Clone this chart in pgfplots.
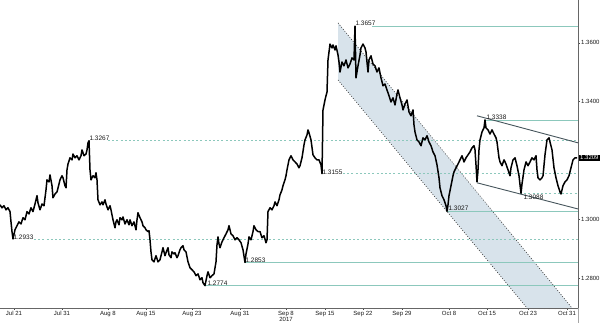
\documentclass[border=0pt]{standalone}
\usepackage{pgfplots}
\pgfplotsset{compat=1.18}
\usepackage{pgfplotstable}
\usepackage{fontspec}
\setmainfont{Liberation Sans}
\definecolor{lvl}{RGB}{140,200,188}
\definecolor{chan}{RGB}{216,227,235}
\definecolor{trend}{RGB}{70,85,92}
\tikzset{lbl/.style={font=\fontsize{6.5}{7}\selectfont, inner sep=0.3pt, text=black!90}}
\pgfplotstableread{
x y
0 1.3049
2 1.3039
4 1.3046
6 1.3032
8 1.3039
10 1.3026
11 1.2991
12 1.2958
13 1.2933
15 1.2964
17 1.2978
19 1.2991
21 1.2984
23 1.3005
25 1.2998
27 1.3026
29 1.3018
31 1.3039
33 1.3026
35 1.3052
37 1.3080
38 1.3056
40 1.3032
42 1.3052
44 1.3046
46 1.3100
47 1.3134
49 1.3127
50 1.3151
52 1.3114
53 1.3073
55 1.3086
57 1.3093
59 1.3120
60 1.3134
62 1.3148
63 1.3141
65 1.3114
66 1.3107
67 1.3168
68 1.3188
70 1.3209
72 1.3202
73 1.3222
75 1.3209
77 1.3216
79 1.3202
81 1.3216
82 1.3236
84 1.3216
86 1.3222
87 1.3236
88 1.3260
89 1.3267
90 1.3168
91 1.3134
93 1.3148
95 1.3141
96 1.3158
97 1.3134
98 1.3066
100 1.3049
102 1.3059
103 1.3049
105 1.3066
106 1.3052
108 1.3032
110 1.3046
111 1.3032
113 1.2998
115 1.2971
116 1.2991
117 1.2998
119 1.2981
120 1.3005
122 1.2998
123 1.3008
125 1.2984
127 1.2998
129 1.2981
130 1.2998
132 1.2978
134 1.2991
136 1.2964
137 1.2998
138 1.3022
140 1.3005
142 1.2991
143 1.2978
145 1.2971
146 1.2964
148 1.2958
149 1.2961
150 1.2930
151 1.2889
152 1.2862
154 1.2855
156 1.2876
158 1.2855
160 1.2862
162 1.2889
163 1.2903
165 1.2876
166 1.2886
168 1.2903
169 1.2879
171 1.2869
172 1.2889
174 1.2882
175 1.2886
177 1.2869
178 1.2876
180 1.2896
181 1.2903
183 1.2910
184 1.2896
186 1.2889
188 1.2855
190 1.2835
192 1.2828
194 1.2821
196 1.2808
198 1.2814
200 1.2794
202 1.2801
203 1.2784
205 1.2774
207 1.2808
208 1.2821
210 1.2801
212 1.2808
214 1.2814
216 1.2855
217 1.2913
218 1.2940
219 1.2916
220 1.2903
222 1.2923
224 1.2937
226 1.2950
228 1.2964
229 1.2978
231 1.2950
233 1.2944
235 1.2930
237 1.2937
239 1.2930
241 1.2920
243 1.2896
245 1.2853
246 1.2882
248 1.2916
249 1.2940
251 1.2930
253 1.2958
254 1.2978
256 1.2964
258 1.2958
260 1.2958
262 1.2937
264 1.2944
266 1.2920
267 1.2930
268 1.3026
270 1.3039
272 1.3032
274 1.3046
275 1.3059
277 1.3046
279 1.3066
280 1.3083
282 1.3100
283 1.3114
285 1.3134
286 1.3148
287 1.3168
289 1.3202
291 1.3216
293 1.3202
295 1.3195
297 1.3188
299 1.3175
300 1.3182
302 1.3209
304 1.3253
305 1.3270
307 1.3287
308 1.3304
309 1.3294
311 1.3270
313 1.3219
315 1.3209
317 1.3202
319 1.3202
321 1.3185
322 1.3155
323 1.3372
325 1.3406
326 1.3420
327 1.3433
328 1.3542
330 1.3596
332 1.3583
333 1.3593
335 1.3576
336 1.3590
338 1.3559
339 1.3535
340 1.3501
342 1.3535
344 1.3522
346 1.3542
348 1.3515
350 1.3528
352 1.3549
354 1.3542
355 1.3657
356 1.3481
358 1.3522
360 1.3559
361 1.3583
363 1.3596
365 1.3583
366 1.3569
368 1.3501
369 1.3542
371 1.3556
373 1.3528
375 1.3522
377 1.3501
379 1.3515
381 1.3481
383 1.3454
385 1.3460
387 1.3440
389 1.3420
391 1.3399
393 1.3413
395 1.3389
397 1.3426
398 1.3440
400 1.3413
402 1.3389
403 1.3372
405 1.3392
407 1.3406
409 1.3365
411 1.3352
413 1.3372
414 1.3321
415 1.3297
417 1.3270
419 1.3263
421 1.3250
423 1.3277
425 1.3270
427 1.3284
429 1.3263
431 1.3250
433 1.3229
435 1.3216
437 1.3185
439 1.3141
440 1.3107
442 1.3080
444 1.3066
446 1.3046
447 1.3027
448 1.3049
449 1.3080
451 1.3114
453 1.3148
454 1.3161
456 1.3175
458 1.3188
460 1.3202
462 1.3216
464 1.3195
466 1.3209
468 1.3219
470 1.3229
472 1.3243
474 1.3250
475 1.3236
476 1.3185
477 1.3127
478 1.3168
479 1.3236
480 1.3270
482 1.3297
484 1.3311
485 1.3338
486 1.3311
488 1.3304
490 1.3290
492 1.3304
494 1.3290
496 1.3277
497 1.3263
499 1.3209
500 1.3195
502 1.3182
504 1.3202
506 1.3188
508 1.3168
510 1.3148
511 1.3175
513 1.3202
515 1.3209
517 1.3182
519 1.3148
521 1.3088
522 1.3120
524 1.3168
526 1.3195
528 1.3182
530 1.3195
532 1.3209
534 1.3202
536 1.3216
537 1.3168
538 1.3141
540 1.3134
542 1.3141
543 1.3148
545 1.3219
547 1.3270
549 1.3277
550 1.3263
552 1.3236
554 1.3175
556 1.3141
558 1.3114
560 1.3093
561 1.3086
563 1.3114
565 1.3127
567 1.3134
569 1.3148
571 1.3175
573 1.3202
575 1.3209
577 1.3209
}\price
\begin{document}
\begin{tikzpicture}[x=1pt,y=1pt]
\begin{axis}[
  at={(0,15pt)}, anchor=south west,
  scale only axis, width=578pt, height=308pt,
  xmin=0, xmax=578, ymin=1.2698, ymax=1.3746,
  axis x line*=bottom, axis y line*=right,
  clip mode=individual,
  tick label style={font=\fontsize{6}{6.5}\selectfont, text=black!90},
  xtick={14,62,108,146,192,240,286,325,363,402,449,487,528,567},
  xticklabels={Jul 21,Jul 31,Aug 8,Aug 15,Aug 23,Aug 31,Sep 8\\2017,Sep 15,Sep 22,Sep 29,Oct 8,Oct 15,Oct 23,Oct 31},
  xticklabel style={align=center, inner sep=0.8pt},
  minor xtick={3.5,8.8,...,578},
  ytick={1.28,1.30,1.34,1.36},
  yticklabels={1.2800,1.3000,1.3400,1.3600},
  yticklabel style={inner sep=1pt},
  major tick length=2pt, minor tick length=1.2pt,
  tick align=outside,
  tick style={black!70, line width=0.4pt},
  axis line style={black!60, line width=0.5pt},
  /pgf/number format/assume math mode=true,
]
% falling channel
\addplot[fill=chan, draw=none] coordinates {(338,1.3668) (572,1.2698) (527,1.2698) (338,1.3474)} -- cycle;
\addplot[black!75, line width=0.6pt, dash pattern=on 1pt off 1.6pt] coordinates {(338,1.3668) (572,1.2698)};
\addplot[black!75, line width=0.6pt, dash pattern=on 1pt off 1.6pt] coordinates {(338,1.3474) (527,1.2698)};
% solid levels
\addplot[lvl, line width=0.8pt] coordinates {(372,1.3657) (578,1.3657)};
\addplot[lvl, line width=0.8pt] coordinates {(486,1.3338) (578,1.3338)};
\addplot[lvl, line width=0.8pt] coordinates {(447,1.3027) (578,1.3027)};
\addplot[lvl, line width=0.8pt] coordinates {(245,1.2853) (578,1.2853)};
\addplot[lvl, line width=0.8pt] coordinates {(205,1.2774) (578,1.2774)};
% dashed levels
\addplot[lvl, line width=0.75pt, dash pattern=on 2pt off 2.2pt] coordinates {(108,1.3267) (578,1.3267)};
\addplot[lvl, line width=0.75pt, dash pattern=on 2pt off 2.2pt] coordinates {(343,1.3155) (578,1.3155)};
\addplot[lvl, line width=0.75pt, dash pattern=on 2pt off 2.2pt] coordinates {(520,1.3088) (578,1.3088)};
\addplot[lvl, line width=0.75pt, dash pattern=on 2pt off 2.2pt] coordinates {(34,1.2933) (578,1.2933)};
% price
\addplot[black, line width=1.5pt, line join=round] table[x=x,y=y] {\price};
% trend lines
\addplot[trend, line width=0.9pt] coordinates {(477,1.3352) (578,1.3260)};
\addplot[trend, line width=0.9pt] coordinates {(477,1.3124) (578,1.3035)};
% labels
\node[lbl, anchor=west, yshift=2.8pt] at (axis cs:355,1.3657) {1.3657};
\node[lbl, anchor=west, yshift=2.8pt] at (axis cs:89,1.3267) {1.3267};
\node[lbl, anchor=west, yshift=2.8pt] at (axis cs:486,1.3338) {1.3338};
\node[lbl, anchor=west, yshift=1.2pt] at (axis cs:322,1.3155) {1.3155};
\node[lbl, anchor=west, yshift=-3.5pt] at (axis cs:523,1.3088) {1.3088};
\node[lbl, anchor=west, yshift=3pt] at (axis cs:448,1.3027) {1.3027};
\node[lbl, anchor=west, yshift=1.5pt] at (axis cs:13,1.2933) {1.2933};
\node[lbl, anchor=west, yshift=2.4pt] at (axis cs:245,1.2853) {1.2853};
\node[lbl, anchor=west, yshift=2.8pt] at (axis cs:207,1.2774) {1.2774};
\node[fill=black, text=white, font=\fontsize{6}{6.5}\selectfont, inner sep=1pt, anchor=west] at (axis cs:579,1.3209) {1.3209};
\end{axis}
\draw[black!35, line width=0.5pt] (578pt,0pt) -- (578pt,15pt);
\pgfresetboundingbox
\path[use as bounding box] (0,0) rectangle (600pt,323pt);
\end{tikzpicture}
\end{document}
